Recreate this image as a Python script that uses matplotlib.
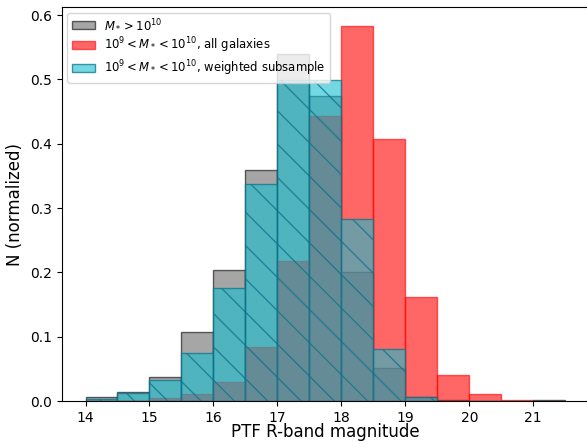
import numpy as np
import matplotlib
matplotlib.use("Agg")
import matplotlib.pyplot as plt

# ---- data (normalized histogram heights, bin width 0.5) ----
bin_edges = [14.0, 14.5, 15.0, 15.5, 16.0, 16.5, 17.0, 17.5, 18.0, 18.5,
             19.0, 19.5, 20.0, 20.5, 21.0, 21.5]
massive_vals = [0.006, 0.0135, 0.038, 0.107, 0.204, 0.3587, 0.539, 0.474,
                0.2014, 0.051, 0.006, 0.002, 0.0, 0.0, 0.001]
all_gal_vals = [0.0, 0.0, 0.005, 0.011, 0.030, 0.0846, 0.2185, 0.444,
                0.583, 0.408, 0.1625, 0.0405, 0.011, 0.002, 0.0]
weighted_vals = [0.003, 0.012, 0.0327, 0.0743, 0.1755, 0.3375, 0.499, 0.499,
                 0.283, 0.0805, 0.006, 0.0, 0.0, 0.0, 0.0]
labels = [r'$M_*>10^{10}$',
          r'$10^9<M_*<10^{10}$, all galaxies',
          r'$10^9<M_*<10^{10}$, weighted subsample']
x_ticks = [14, 15, 16, 17, 18, 19, 20, 21]
y_ticks = [0.0, 0.1, 0.2, 0.3, 0.4, 0.5, 0.6]

DPI = 100
plt.rcParams.update({
    'font.family': ['DejaVu Sans'],
    'font.size': 10,
    'hatch.linewidth': 1.0,
})

fig = plt.figure(figsize=(587 / DPI, 444 / DPI), dpi=DPI)
ax = fig.add_axes([0.1048, 0.0968, 0.899, 0.8874])

edges = np.array(bin_edges)
centers = 0.5 * (edges[:-1] + edges[1:])

ax.hist(centers, bins=edges, weights=massive_vals,
        facecolor=(0.5, 0.5, 0.5, 0.7), edgecolor=(0, 0, 0, 0.6),
        label=labels[0])
ax.hist(centers, bins=edges, weights=all_gal_vals,
        facecolor=(1, 0, 0, 0.6), edgecolor=(1, 0, 0, 0.6),
        label=labels[1])
ax.hist(centers, bins=edges, weights=weighted_vals,
        facecolor=(23 / 255, 190 / 255, 207 / 255, 0.6),
        edgecolor=(0.05, 0.45, 0.55, 0.75), hatch='\\',
        label=labels[2])

ax.set_xticks(x_ticks)
ax.set_yticks(y_ticks)
ax.set_xlim(13.625, 21.875)
ax.set_ylim(0, 0.6127)
ax.set_xlabel('PTF R-band magnitude', fontsize=12, labelpad=-1)
ax.set_ylabel('N (normalized)', fontsize=12)
ax.legend(loc='upper left', fontsize='small', labelspacing=0.3)

fig.savefig('out.png', dpi=DPI)
